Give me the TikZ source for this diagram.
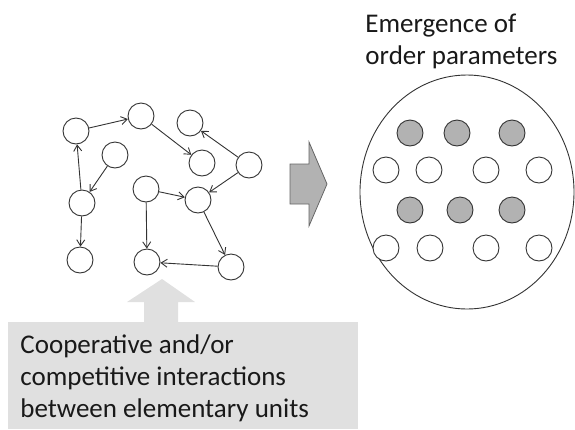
\documentclass[tikz,border=0pt]{standalone}
\usepackage{fontspec}
\setmainfont{Carlito}
\usetikzlibrary{arrows.meta}

\begin{document}
\begin{tikzpicture}[x=1pt,y=-1pt]
\tikzstyle{every node}=[minimum size=26pt, inner sep=0pt, circle, draw=black!80, line width=0.9pt]
\tikzstyle{caption text}=[rectangle, draw=none, minimum size=0pt, align=left, anchor=base west, text=black!90, font=\fontsize{27}{32}\selectfont]
\tikzstyle{link}=[-{Straight Barb[length=6pt,width=8pt]}, line width=0.9pt, black!80]
\useasboundingbox (0,0) rectangle (575,429);
% interactions box with its up arrow
\fill[black!12] (8,322) rectangle (358,429);
\fill[black!12] (144,322) -- (144,302) -- (127,302) -- (162,279) -- (195,302) -- (178,302) -- (178,322) -- cycle;
\draw (20,417) node (coop) [caption text] {Cooperative and/or\\competitive interactions\\between elementary units};
% elementary units
\draw (76,131) node (u1) [fill=white] {};
\draw (141,116) node (u2) [fill=white] {};
\draw (190,123) node (u3) [fill=white] {};
\draw (115,155) node (u4) [fill=white] {};
\draw (202,163) node (u5) [fill=white] {};
\draw (249,165) node (u6) [fill=white] {};
\draw (82,203) node (u7) [fill=white] {};
\draw (146,189) node (u8) [fill=white] {};
\draw (198,200) node (u9) [fill=white] {};
\draw (80,260) node (u10) [fill=white] {};
\draw (147,262) node (u11) [fill=white] {};
\draw (231,267) node (u12) [fill=white] {};
\draw[link] (u7) -- (u1);
\draw[link] (u1) -- (u2);
\draw[link] (u2) -- (u5);
\draw[link] (u6) -- (u3);
\draw[link] (u6) -- (u9);
\draw[link] (u4) -- (u7);
\draw[link] (u7) -- (u10);
\draw[link] (u8) -- (u9);
\draw[link] (u8) -- (u11);
\draw[link] (u9) -- (u12);
\draw[link] (u12) -- (u11);
% block arrow
\draw[fill=black!30, draw=black!60, line width=0.8pt] (290,164) -- (309,164) -- (309,142) -- (327,184) -- (309,226) -- (309,204) -- (290,204) -- cycle;
% order parameters
\draw (365,64) node (emerge) [caption text] {Emergence of\\order parameters};
\draw[black!80, line width=0.9pt] (467,192) ellipse [x radius=107pt, y radius=117pt];
\draw (410,133) node (p1) [fill=black!30] {};
\draw (457,133) node (p2) [fill=black!30] {};
\draw (512,133) node (p3) [fill=black!30] {};
\draw (386,170) node (w1) [fill=white] {};
\draw (429,170) node (w2) [fill=white] {};
\draw (486,170) node (w3) [fill=white] {};
\draw (539,170) node (w4) [fill=white] {};
\draw (410,210) node (p4) [fill=black!30] {};
\draw (460,210) node (p5) [fill=black!30] {};
\draw (512,210) node (p6) [fill=black!30] {};
\draw (386,248) node (w5) [fill=white] {};
\draw (430,248) node (w6) [fill=white] {};
\draw (486,248) node (w7) [fill=white] {};
\draw (539,248) node (w8) [fill=white] {};
\end{tikzpicture}
\end{document}
